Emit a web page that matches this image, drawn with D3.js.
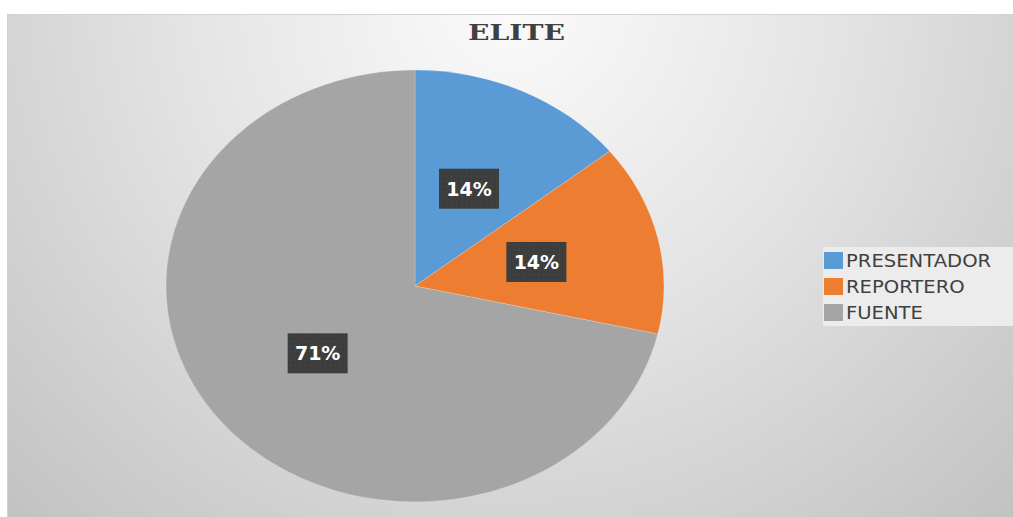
<!DOCTYPE html>
<meta charset="utf-8">
<style>
body { margin: 0; background: #fff; }
svg { display: block; }
</style>
<svg width="1013" height="517"></svg>
<script src="https://d3js.org/d3.v7.min.js"></script>
<script>

var categories = ["PRESENTADOR", "REPORTERO", "FUENTE"],
    values = [1, 1, 5],
    colors = ["#5b9bd5", "#ed7d31", "#a5a5a5"],
    title = "ELITE";

var svg = d3.select("svg"),
    sx = 249 / 216; // the picture is stretched sideways

var defs = svg.append("defs");

var bg = defs.append("radialGradient")
    .attr("id", "bg")
    .attr("gradientUnits", "userSpaceOnUse")
    .attr("cx", 510).attr("cy", 0).attr("r", 720);
bg.append("stop").attr("offset", 0).attr("stop-color", "#fbfbfb");
bg.append("stop").attr("offset", 0.45).attr("stop-color", "#e4e4e4");
bg.append("stop").attr("offset", 1).attr("stop-color", "#c2c2c2");

var dots = defs.append("pattern")
    .attr("id", "dots")
    .attr("patternUnits", "userSpaceOnUse")
    .attr("width", 5).attr("height", 5);
dots.append("rect").attr("width", 5).attr("height", 5).attr("fill", "#3d3d3d");
dots.append("rect").attr("x", 2).attr("y", 2).attr("width", 1.2).attr("height", 1.2).attr("fill", "#4b4b4b");

svg.append("rect")
    .attr("x", 7.5).attr("y", 14.5)
    .attr("width", 1010).attr("height", 510)
    .attr("fill", "url(#bg)")
    .attr("stroke", "#d2d2d2");

svg.append("text")
    .attr("x", 516.5).attr("y", 40)
    .attr("text-anchor", "middle")
    .attr("font-family", "DejaVu Serif, serif")
    .attr("font-weight", "bold")
    .attr("font-size", 22)
    .attr("textLength", 97)
    .attr("lengthAdjust", "spacingAndGlyphs")
    .attr("fill", "#404040")
    .text(title);

var r = 216, cx = 415, cy = 286;

var pie = d3.pie().sort(null).value(function(d) { return d; });
var arcs = pie(values);
var arc = d3.arc().innerRadius(0).outerRadius(r);

var g = svg.append("g")
    .attr("transform", "translate(" + cx + "," + cy + ") scale(" + sx + ",1)");

g.selectAll("path")
    .data(arcs)
  .enter().append("path")
    .attr("d", arc)
    .attr("fill", function(d, i) { return colors[i]; })
    .attr("stroke", "rgba(255,255,255,0.3)")
    .attr("stroke-width", 0.6);

var total = d3.sum(values),
    fmt = d3.format(".0%");

var lab = svg.append("g").selectAll("g")
    .data(arcs)
  .enter().append("g")
    .attr("transform", function(d) {
      var c = arc.centroid(d);
      return "translate(" + (cx + c[0] * sx) + "," + (cy + c[1]) + ")";
    });

lab.append("rect")
    .attr("x", -30).attr("y", -20)
    .attr("width", 60).attr("height", 40)
    .attr("fill", "url(#dots)");

lab.append("text")
    .attr("y", 7)
    .attr("text-anchor", "middle")
    .attr("font-family", "DejaVu Sans, sans-serif")
    .attr("font-weight", "bold")
    .attr("font-size", 19)
    .attr("fill", "#fff")
    .text(function(d) { return fmt(d.value / total); });

var legend = svg.append("g");

legend.append("rect")
    .attr("x", 823).attr("y", 247)
    .attr("width", 190).attr("height", 79)
    .attr("fill", "#ececec");

var item = legend.selectAll("g")
    .data(categories)
  .enter().append("g")
    .attr("transform", function(d, i) { return "translate(824," + (252 + i * 26) + ")"; });

item.append("rect")
    .attr("width", 19).attr("height", 17)
    .attr("fill", function(d, i) { return colors[i]; });

item.append("text")
    .attr("y", 15)
    .attr("font-family", "DejaVu Sans, sans-serif")
    .attr("font-size", 17)
    .attr("fill", "#404040")
    .attr("transform", "scale(" + sx + ",1)")
    .attr("x", 22 / sx)
    .text(function(d) { return d; });

</script>
